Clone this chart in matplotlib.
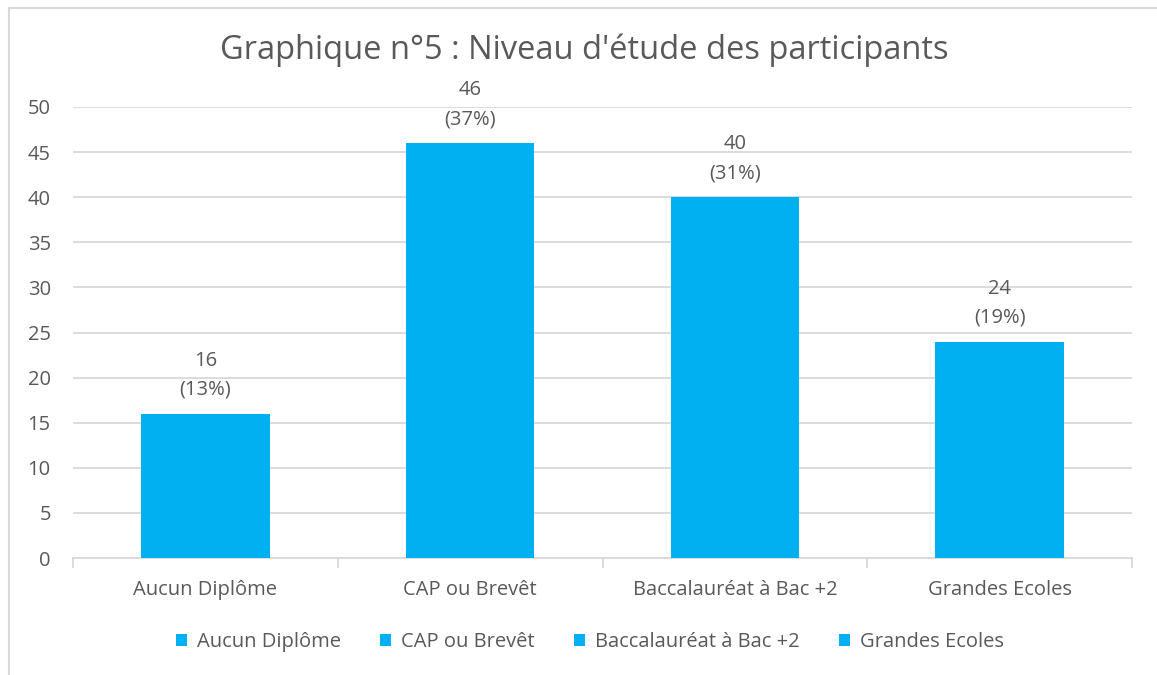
import matplotlib.pyplot as plt
from matplotlib.patches import Rectangle

# niveaux d'etude et nombre de participants
categories = ["Aucun Diplôme", "CAP ou Brevêt", "Baccalauréat à Bac +2", "Grandes Ecoles"]
counts = [16, 46, 40, 24]
percents = ["13%", "37%", "31%", "19%"]

bar_color = "#00B0F0"
text_color = "#595959"
grid_color = "#D9D9D9"

plt.rcParams['font.family'] = ['Open Sans', 'DejaVu Sans']

fig = plt.figure(figsize=(11.57, 6.75), dpi=100)
ax = fig.add_axes([73 / 1157, 1 - 558 / 675, (1132 - 73) / 1157, (558 - 107) / 675])

# chaque barre est une serie a part (comme dans Excel)
for i, (cat, n, p) in enumerate(zip(categories, counts, percents)):
    bars = ax.bar(i, n, width=0.485, color=bar_color, label=cat, zorder=3)
    ax.bar_label(bars, labels=[f"{n}\n({p})"], padding=10, fontsize=14.5,
                 color=text_color, linespacing=1.6)

ax.set_xlim(-0.5, len(categories) - 0.5)
ax.set_ylim(0, 50)
ax.set_yticks(range(0, 51, 5))
ax.set_xticks(range(len(categories)))
ax.set_xticklabels(categories)
ax.set_xticks([x - 0.5 for x in range(len(categories) + 1)], minor=True)

ax.grid(axis='y', color=grid_color, linewidth=1.3, zorder=0)
for side in ['top', 'right', 'left']:
    ax.spines[side].set_visible(False)
ax.spines['bottom'].set_color(grid_color)
ax.spines['bottom'].set_linewidth(1.3)

ax.tick_params(axis='y', length=0, pad=16, labelsize=14.5, labelcolor=text_color)
ax.tick_params(axis='x', which='major', length=0, pad=16, labelsize=14.5, labelcolor=text_color)
ax.tick_params(axis='x', which='minor', length=7, width=1.3, color=grid_color)

fig.text(584 / 1157, 1 - 50 / 675, "Graphique n°5 : Niveau d'étude des participants",
         ha='center', va='center', fontsize=23.5, color=text_color)

leg = fig.legend(loc='center', bbox_to_anchor=(590 / 1157, 1 - 642 / 675), ncol=4,
                 frameon=False, fontsize=14.5, labelcolor=text_color,
                 handlelength=0.55, handleheight=0.55, handletextpad=0.5, columnspacing=1.95)

# cadre du graphique
fig.patches.append(Rectangle((9 / 1157, -0.01), 1.02, 1 - 8 / 675 + 0.01,
                             transform=fig.transFigure, fill=False,
                             edgecolor=grid_color, linewidth=1.5))

fig.savefig("out.png", dpi=100)
